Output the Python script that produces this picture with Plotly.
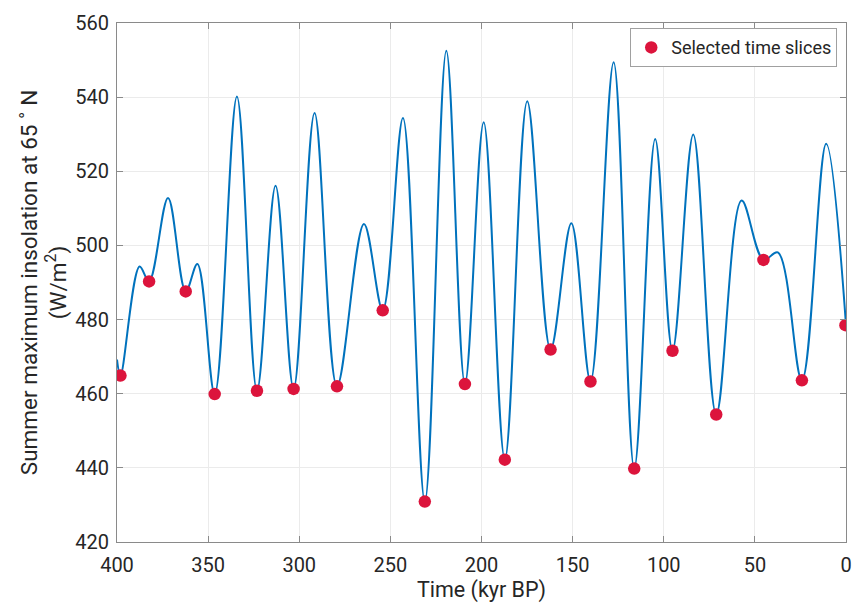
import plotly.graph_objects as go

# Insolation curve key points (kyr BP, W/m^2)
curve_time = [400.0, 398.1, 387.6, 382.4, 372.0, 362.3, 355.9, 346.4, 334.2, 323.2,
              313.0, 303.1, 291.6, 279.3, 264.5, 254.2, 243.1, 231.1, 219.3, 209.1,
              198.8, 187.2, 174.9, 162.1, 150.7, 140.2, 127.5, 116.2, 104.7, 95.2,
              83.8, 71.2, 57.3, 45.3, 37.4, 24.2, 10.9, 0.0]
curve_insol = [469.2, 464.9, 494.3, 490.3, 512.8, 487.6, 495.0, 459.9, 540.2, 460.8,
               516.1, 461.3, 535.7, 462.0, 505.8, 482.5, 534.4, 430.9, 552.5, 462.6,
               533.2, 442.2, 538.9, 471.9, 506.0, 463.3, 549.4, 439.8, 528.7, 471.6,
               529.9, 454.4, 512.1, 496.1, 498.1, 463.6, 527.4, 478.5]

# Selected time slices
slice_time = [398.1, 382.4, 362.3, 346.4, 323.2, 303.1, 279.3, 254.2, 231.1, 209.1,
              187.2, 162.1, 140.2, 116.2, 95.2, 71.2, 45.3, 24.2, 0.3]
slice_insol = [464.9, 490.3, 487.6, 459.9, 460.8, 461.3, 462.0, 482.5, 430.9, 462.6,
               442.2, 471.9, 463.3, 439.8, 471.6, 454.4, 496.1, 463.6, 478.5]

x_ticks = [400, 350, 300, 250, 200, 150, 100, 50, 0]
y_ticks = [420, 440, 460, 480, 500, 520, 540, 560]

fig = go.Figure()
fig.add_trace(go.Scatter(
    x=curve_time, y=curve_insol, mode="lines",
    line=dict(color="#0072BD", width=2, shape="spline", smoothing=1.0),
    showlegend=False, hoverinfo="skip"))
fig.add_trace(go.Scatter(
    x=slice_time, y=slice_insol, mode="markers",
    marker=dict(color="#DC143C", size=12.5),
    name="Selected time slices"))

axis_common = dict(
    showline=True, linecolor="#8a8a8a", linewidth=1, mirror="ticks",
    ticks="inside", ticklen=6, tickcolor="#8a8a8a",
    showgrid=True, gridcolor="#ebebeb", gridwidth=1,
    zeroline=False, automargin=False,
    tickfont=dict(family="Roboto", size=20, color="#262626"),
)

fig.update_layout(
    width=852, height=607,
    margin=dict(l=117, r=6, t=23, b=65),
    paper_bgcolor="white", plot_bgcolor="white",
    font=dict(family="Roboto", color="#262626"),
    xaxis=dict(range=[400, 0], tickvals=x_ticks, ticklabelstandoff=5,
               title=dict(text="Time (kyr BP)", font=dict(size=21.5), standoff=2),
               **axis_common),
    yaxis=dict(range=[420, 560], tickvals=y_ticks, ticklabelstandoff=3,
               title=dict(text="Summer maximum insolation at 65 ˚ N<br>(W/m<sup>2</sup>)",
                          font=dict(size=22.5), standoff=2),
               **axis_common),
    legend=dict(x=0.988, y=0.99, xanchor="right", yanchor="top",
                bgcolor="white", bordercolor="#a0a0a0", borderwidth=1,
                font=dict(family="Roboto", size=18, color="#262626"),
                itemwidth=30, tracegroupgap=0),
)

fig.write_html("out.html")
